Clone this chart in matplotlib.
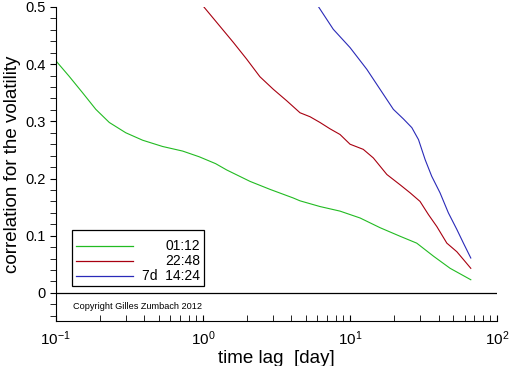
import matplotlib
matplotlib.use("Agg")
import matplotlib.pyplot as plt
from matplotlib.patches import Rectangle
from matplotlib.ticker import MultipleLocator, LogLocator, NullFormatter

plt.rcParams["font.family"] = ["Liberation Sans", "DejaVu Sans"]
plt.rcParams["mathtext.fontset"] = "custom"
plt.rcParams["mathtext.rm"] = "Liberation Sans"
plt.rcParams["mathtext.it"] = "Liberation Sans"

# values: time lag [day] vs correlation
lag_0112 = [0.1, 0.123, 0.152, 0.187, 0.231, 0.299, 0.389, 0.532, 0.728, 0.944, 1.22,
            1.45, 2.09, 2.86, 4.11, 4.57, 6.25, 8.55, 11.7, 16.0, 21.9, 28.4, 37.0,
            47.9, 66.2]
corr_0112 = [0.406, 0.379, 0.350, 0.321, 0.298, 0.280, 0.267, 0.256, 0.248, 0.238, 0.226,
             0.215, 0.195, 0.181, 0.166, 0.161, 0.151, 0.143, 0.131, 0.114, 0.099, 0.087,
             0.064, 0.043, 0.023]

lag_2248 = [1.0, 1.61, 1.98, 2.44, 3.01, 3.71, 4.57, 5.35, 6.25, 7.3, 8.55, 10.0, 12.3,
            14.4, 17.8, 21.9, 25.6, 29.9, 34.1, 38.9, 45.5, 53.2, 60.5, 66.2]
corr_2248 = [0.502, 0.438, 0.409, 0.378, 0.356, 0.336, 0.315, 0.308, 0.298, 0.287, 0.277,
             0.260, 0.251, 0.236, 0.207, 0.189, 0.175, 0.160, 0.137, 0.116, 0.087, 0.072,
             0.055, 0.043]

lag_7d = [6.08, 7.69, 10.0, 13.0, 16.0, 19.7, 23.1, 26.3, 29.2, 32.4, 35.9, 40.9,
          46.6, 53.2, 59.0, 66.2]
corr_7d = [0.501, 0.461, 0.429, 0.391, 0.356, 0.321, 0.304, 0.289, 0.268, 0.233, 0.204,
           0.175, 0.140, 0.111, 0.087, 0.061]

series = [
    ("01:12", lag_0112, corr_0112, "#22bb22"),
    ("22:48", lag_2248, corr_2248, "#a80010"),
    ("7d  14:24", lag_7d, corr_7d, "#2a2ab8"),
]

fig = plt.figure(figsize=(5.12, 3.66), dpi=100)
ax = fig.add_axes([0.109, 0.1216, 0.862, 0.8594])

for label, x, y, color in series:
    ax.plot(x, y, color=color, lw=0.8)

ax.axhline(0, color="black", lw=0.9)

ax.set_xscale("log")
ax.set_xlim(0.1, 100)
ax.set_ylim(-0.05, 0.5)

ax.spines["top"].set_visible(False)
ax.spines["right"].set_visible(False)

ax.yaxis.set_minor_locator(MultipleLocator(0.02))
ax.set_yticks([0, 0.1, 0.2, 0.3, 0.4, 0.5])
ax.set_yticklabels(["0", "0.1", "0.2", "0.3", "0.4", "0.5"])
ax.tick_params(axis="y", which="both", direction="out", length=4, labelsize=10.5)

ax.xaxis.set_major_locator(LogLocator(base=10))
ax.xaxis.set_minor_locator(LogLocator(base=10, subs=range(2, 10)))
ax.xaxis.set_minor_formatter(NullFormatter())
ax.tick_params(axis="x", which="both", direction="in", length=4, labelsize=11, pad=6)

ax.set_xlabel("time lag  [day]", fontsize=13.5, labelpad=1)
ax.set_ylabel("correlation for the volatility", fontsize=13.5, labelpad=3)

# legend box, drawn by hand so labels sit right-aligned
tr = ax.transAxes
ax.add_patch(Rectangle((0.036, 0.113), 0.30, 0.178, transform=tr,
                       facecolor="white", edgecolor="black", lw=0.9, zorder=5))
rows = [0.241, 0.192, 0.144]
for (label, _, _, color), ry in zip(series, rows):
    ax.plot([0.045, 0.175], [ry, ry], color=color, lw=0.9, transform=tr, zorder=6)
    ax.text(0.327, ry, label, transform=tr, ha="right", va="center",
            fontsize=10, zorder=6)

ax.text(0.184, 0.047, "Copyright Gilles Zumbach 2012", transform=tr,
        ha="center", va="center", fontsize=6.6)

fig.savefig("out.png", dpi=100)
